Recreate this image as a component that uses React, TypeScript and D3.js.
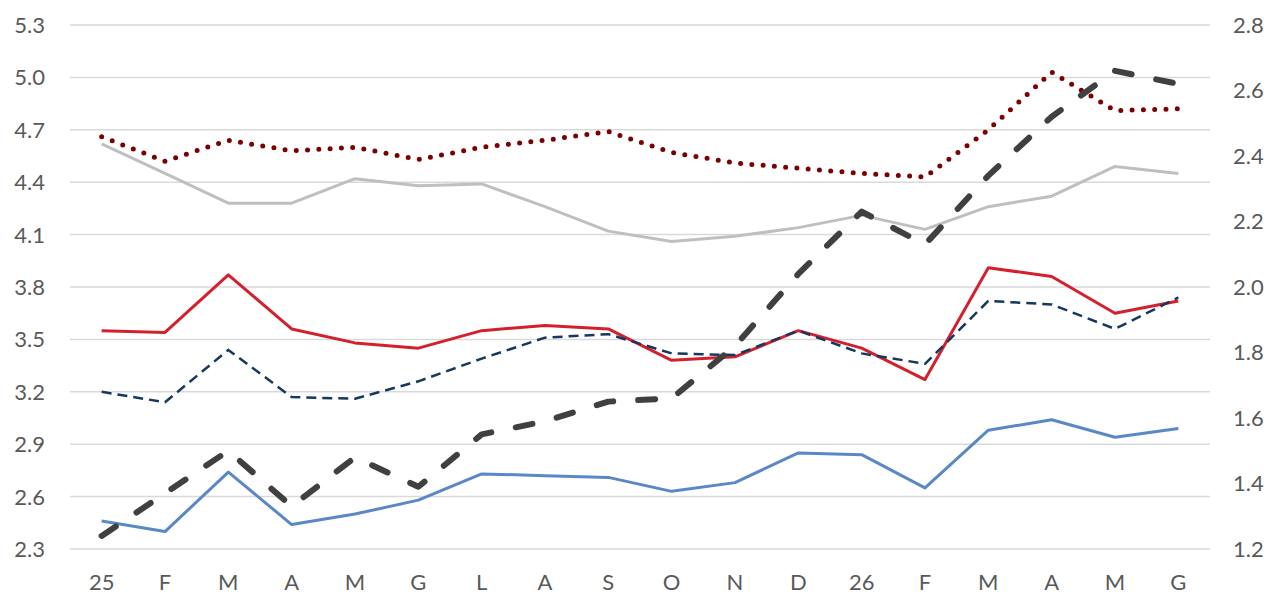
import React, { useEffect, useRef } from 'react';
import * as d3 from 'd3';

const months = ['25', 'F', 'M', 'A', 'M', 'G', 'L', 'A', 'S', 'O', 'N', 'D', '26', 'F', 'M', 'A', 'M', 'G'];

const leftTicks = [2.3, 2.6, 2.9, 3.2, 3.5, 3.8, 4.1, 4.4, 4.7, 5.0, 5.3];
const rightTicks = [1.2, 1.4, 1.6, 1.8, 2.0, 2.2, 2.4, 2.6, 2.8];

// left axis series
const grayLine = [4.62, 4.45, 4.28, 4.28, 4.42, 4.38, 4.39, 4.26, 4.12, 4.06, 4.09, 4.14, 4.21, 4.13, 4.26, 4.32, 4.49, 4.45];
const dottedRed = [4.66, 4.52, 4.64, 4.58, 4.60, 4.53, 4.60, 4.64, 4.69, 4.57, 4.51, 4.48, 4.45, 4.43, 4.70, 5.03, 4.81, 4.82];
const redLine = [3.55, 3.54, 3.87, 3.56, 3.48, 3.45, 3.55, 3.58, 3.56, 3.38, 3.40, 3.55, 3.45, 3.27, 3.91, 3.86, 3.65, 3.72];
const navyDashed = [3.20, 3.14, 3.44, 3.17, 3.16, 3.26, 3.39, 3.51, 3.53, 3.42, 3.41, 3.55, 3.42, 3.36, 3.72, 3.70, 3.56, 3.74];
const blueLine = [2.46, 2.40, 2.74, 2.44, 2.50, 2.58, 2.73, 2.72, 2.71, 2.63, 2.68, 2.85, 2.84, 2.65, 2.98, 3.04, 2.94, 2.99];
// right axis series
const blackDashed = [1.24, 1.37, 1.50, 1.33, 1.48, 1.39, 1.55, 1.59, 1.65, 1.66, 1.82, 2.04, 2.23, 2.13, 2.34, 2.52, 2.66, 2.62];

const App = () => {
  const chart = useRef<SVGSVGElement>(null);

  useEffect(() => {
    document.body.style.margin = '0';
    const width = 1284;
    const height = 594;
    const margin = { top: 25, right: 74, bottom: 45, left: 70 };

    const svg = d3.select(chart.current);
    svg.selectAll('*').remove();

    const idx = months.map((_, i) => i);
    const x = d3
      .scaleBand<number>()
      .domain(idx)
      .range([margin.left, width - margin.right]);
    const cx = (i: number) => (x(i) as number) + x.bandwidth() / 2;

    const yLeft = d3.scaleLinear().domain([2.3, 5.3]).range([height - margin.bottom, margin.top]);
    const yRight = d3.scaleLinear().domain([1.2, 2.8]).range([height - margin.bottom, margin.top]);

    const font = 'Lato, "Noto Sans", sans-serif';
    const textColor = '#595959';

    // gridlines
    svg
      .append('g')
      .selectAll('line')
      .data(leftTicks)
      .join('line')
      .attr('x1', margin.left)
      .attr('x2', width - margin.right)
      .attr('y1', (d) => yLeft(d))
      .attr('y2', (d) => yLeft(d))
      .attr('stroke', '#d9d9d9')
      .attr('stroke-width', 1.5);

    // left ticks
    svg
      .append('g')
      .selectAll('text')
      .data(leftTicks)
      .join('text')
      .attr('x', 45)
      .attr('y', (d) => yLeft(d))
      .attr('dy', '0.36em')
      .attr('text-anchor', 'end')
      .attr('font-family', font)
      .attr('font-size', 22)
      .attr('fill', textColor)
      .text((d) => d.toFixed(1));

    // right ticks
    svg
      .append('g')
      .selectAll('text')
      .data(rightTicks)
      .join('text')
      .attr('x', 1233)
      .attr('y', (d) => yRight(d))
      .attr('dy', '0.36em')
      .attr('text-anchor', 'start')
      .attr('font-family', font)
      .attr('font-size', 22)
      .attr('fill', textColor)
      .text((d) => d.toFixed(1));

    // x labels
    svg
      .append('g')
      .selectAll('text')
      .data(months)
      .join('text')
      .attr('x', (_, i) => cx(i))
      .attr('y', 590)
      .attr('text-anchor', 'middle')
      .attr('font-family', font)
      .attr('font-size', 22)
      .attr('fill', textColor)
      .text((d) => d);

    const lineL = d3
      .line<number>()
      .x((_, i) => cx(i))
      .y((d) => yLeft(d));
    const lineR = d3
      .line<number>()
      .x((_, i) => cx(i))
      .y((d) => yRight(d));

    const series = [
      { data: grayLine, gen: lineL, color: '#bfbfbf', w: 3, dash: null, cap: 'butt' },
      { data: dottedRed, gen: lineL, color: '#7b0000', w: 5, dash: '0 11.3', cap: 'round' },
      { data: redLine, gen: lineL, color: '#d4202c', w: 3, dash: null, cap: 'butt' },
      { data: navyDashed, gen: lineL, color: '#17375e', w: 2.5, dash: '10 6', cap: 'butt' },
      { data: blueLine, gen: lineL, color: '#5a88c6', w: 3, dash: null, cap: 'butt' },
      { data: blackDashed, gen: lineR, color: '#404040', w: 6, dash: '17 25', cap: 'round' },
    ];

    series.forEach((s) => {
      svg
        .append('path')
        .attr('d', s.gen(s.data))
        .attr('fill', 'none')
        .attr('stroke', s.color)
        .attr('stroke-width', s.w)
        .attr('stroke-linejoin', 'round')
        .attr('stroke-linecap', s.cap)
        .attr('stroke-dasharray', s.dash);
    });
  }, []);

  return <svg ref={chart} width={1284} height={594} style={{ display: 'block', background: '#fff' }} />;
};

export default App;
